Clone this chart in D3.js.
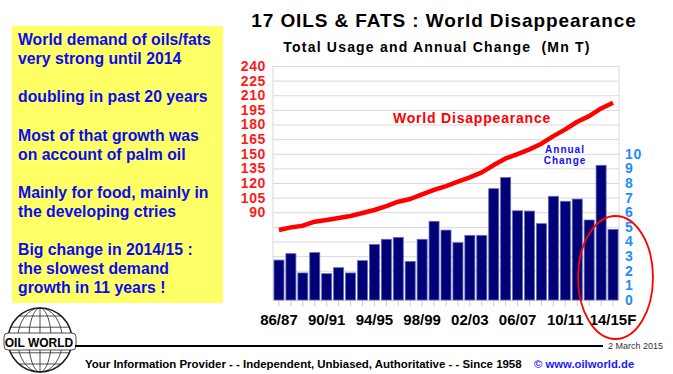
<!DOCTYPE html>
<html>
<head>
<meta charset="utf-8">
<script src="https://cdn.jsdelivr.net/npm/d3@7/dist/d3.min.js"></script>
<style>
  body { margin: 0; background: #fff; }
  svg text { font-family: 'Liberation Sans', Arial, sans-serif; white-space: pre; }
</style>
</head>
<body>
<div id="chart"></div>
<script>
const seasons = ['86/87', '87/88', '88/89', '89/90', '90/91', '91/92', '92/93', '93/94',
  '94/95', '95/96', '96/97', '97/98', '98/99', '99/00', '00/01', '01/02', '02/03',
  '03/04', '04/05', '05/06', '06/07', '07/08', '08/09', '09/10', '10/11', '11/12',
  '12/13', '13/14', '14/15'];
const tickLabels = ['86/87', '90/91', '94/95', '98/99', '02/03', '06/07', '10/11', '14/15F'];
// total usage, Mn T (left axis)
const usage = [71.8, 74.5, 76.2, 80.3, 82.0, 84.1, 86.1, 89.2, 92.3, 96.4, 100.8,
  103.6, 108.4, 113.0, 116.9, 121.3, 125.8, 130.9, 138.4, 145.2, 149.7, 154.5,
  160.3, 168.1, 175.0, 182.8, 188.6, 196.5, 202.3];
// annual change, Mn T (right axis)
const change = [2.73, 3.17, 1.85, 3.24, 1.80, 2.21, 1.85, 2.69, 3.80, 4.15, 4.28,
  2.64, 4.15, 5.38, 4.78, 3.92, 4.42, 4.42, 7.61, 8.38, 6.10, 6.08, 5.22, 7.09,
  6.75, 6.90, 5.47, 9.21, 4.83];
const leftTicks = [90, 105, 120, 135, 150, 165, 180, 195, 210, 225, 240];
const rightTicks = [0, 1, 2, 3, 4, 5, 6, 7, 8, 9, 10];
const notes = [
  'World demand of oils/fats', 'very strong until 2014', '',
  'doubling in past 20 years', '',
  'Most of that growth was', 'on account of palm oil', '',
  'Mainly for food, mainly in', 'the developing ctries', '',
  'Big change in 2014/15 :', 'the slowest demand', 'growth in 11 years !'
];

const W = 673;
const H = 374;
const plot = { left: 273, right: 619, top: 66, bottom: 300 };

const svg = d3.select('#chart').append('svg')
  .attr('width', W)
  .attr('height', H);

const x = d3.scaleBand()
  .domain(seasons)
  .range([plot.left, plot.right])
  .paddingInner(0.16)
  .paddingOuter(0.08);
const yL = d3.scaleLinear().domain([0, 240]).range([plot.bottom, plot.top]);
const yR = d3.scaleLinear().domain([0, 16]).range([plot.bottom, plot.top]);

// yellow note box
svg.append('rect')
  .attr('x', 12).attr('y', 26)
  .attr('width', 211).attr('height', 277)
  .attr('fill', '#ffff66');
svg.append('g').selectAll('text')
  .data(notes)
  .enter().append('text')
  .attr('x', 18)
  .attr('y', (d, i) => 45 + i * 19.1)
  .attr('fill', '#0a0af0')
  .style('font-size', '15.8px')
  .style('font-weight', 'bold')
  .text(d => d);

// titles
svg.append('text')
  .attr('x', 444).attr('y', 27)
  .attr('text-anchor', 'middle')
  .style('font-size', '19px')
  .style('font-weight', 'bold')
  .style('letter-spacing', '0.9px')
  .text('17 OILS & FATS : World Disappearance');
svg.append('text')
  .attr('x', 437).attr('y', 52)
  .attr('text-anchor', 'middle')
  .style('font-size', '14px')
  .style('font-weight', 'bold')
  .style('letter-spacing', '1.2px')
  .text('Total Usage and Annual Change  (Mn T)');

// grid + frame
svg.append('g')
  .attr('transform', `translate(${plot.left},0)`)
  .call(d3.axisRight(yL).tickValues(d3.range(0, 241, 15))
    .tickSize(plot.right - plot.left).tickFormat(''))
  .call(g => g.select('.domain').remove())
  .call(g => g.selectAll('line').attr('stroke', '#d9d9d9'));
svg.append('g').selectAll('line')
  .data([plot.left, plot.right])
  .enter().append('line')
  .attr('x1', d => d).attr('x2', d => d)
  .attr('y1', plot.top).attr('y2', plot.bottom)
  .attr('stroke', '#d9d9d9');

// x ticks at bar centres
svg.append('g')
  .attr('transform', `translate(0,${plot.bottom})`)
  .call(d3.axisBottom(x).tickSize(6).tickFormat(''))
  .call(g => g.select('.domain').remove())
  .call(g => g.selectAll('line').attr('stroke', '#cccccc'));

// bars
svg.append('g').selectAll('rect')
  .data(change)
  .enter().append('rect')
  .attr('x', (d, i) => x(seasons[i]))
  .attr('y', d => yR(d))
  .attr('width', x.bandwidth())
  .attr('height', d => yR(0) - yR(d))
  .attr('fill', '#000078')
  .attr('stroke', '#6a6ab0')
  .attr('stroke-width', 0.8);

// usage line
const line = d3.line()
  .x((d, i) => x(seasons[i]) + x.bandwidth() / 2)
  .y(d => yL(d));
svg.append('path')
  .datum(usage)
  .attr('d', line)
  .attr('fill', 'none')
  .attr('stroke', '#ff0000')
  .attr('stroke-width', 4.5)
  .attr('stroke-linejoin', 'round');

// left axis
svg.append('g')
  .attr('transform', `translate(${plot.left - 5},0)`)
  .call(d3.axisLeft(yL).tickValues(leftTicks).tickSize(0).tickPadding(2))
  .call(g => g.select('.domain').remove())
  .call(g => g.selectAll('text')
    .attr('fill', '#ff1a1a')
    .style('font-size', '14px')
    .style('font-weight', 'bold')
    .style('letter-spacing', '0.6px')
    .style('font-family', "'Liberation Sans', Arial, sans-serif"));

// right axis
svg.append('g')
  .attr('transform', `translate(${plot.right + 4},0)`)
  .call(d3.axisRight(yR).tickValues(rightTicks).tickSize(0).tickPadding(2))
  .call(g => g.select('.domain').remove())
  .call(g => g.selectAll('text')
    .attr('fill', '#1e8cff')
    .style('font-size', '14px')
    .style('font-weight', 'bold')
    .style('letter-spacing', '0.6px')
    .style('font-family', "'Liberation Sans', Arial, sans-serif"));

// x labels
svg.append('g').selectAll('text')
  .data(tickLabels)
  .enter().append('text')
  .attr('x', (d, i) => x(seasons[i * 4]) + x.bandwidth() / 2)
  .attr('y', 325)
  .attr('text-anchor', 'middle')
  .style('font-size', '15px')
  .style('font-weight', 'bold')
  .text(d => d);

// series labels
svg.append('text')
  .attr('x', 393).attr('y', 123)
  .attr('fill', '#ff0000')
  .style('font-size', '14px')
  .style('font-weight', 'bold')
  .style('letter-spacing', '0.8px')
  .text('World Disappearance');
svg.append('g').selectAll('text')
  .data(['Annual', 'Change'])
  .enter().append('text')
  .attr('x', 565).attr('y', (d, i) => 153 + i * 11)
  .attr('text-anchor', 'middle')
  .attr('fill', '#1010ff')
  .style('font-size', '10px')
  .style('font-weight', 'bold')
  .style('letter-spacing', '1px')
  .text(d => d);

// highlight ellipse
svg.append('ellipse')
  .attr('cx', 615.5).attr('cy', 277.5)
  .attr('rx', 37.5).attr('ry', 61.5)
  .attr('fill', 'none')
  .attr('stroke', '#ff0000')
  .attr('stroke-width', 1.8);

// footer
const logo = svg.append('g').attr('transform', 'translate(40,340)');
const r = 32;
logo.append('circle').attr('r', r).attr('fill', '#fff')
  .attr('stroke', '#222').attr('stroke-width', 1.5);
[0.35, 0.7].forEach((k) => {
  logo.append('ellipse').attr('rx', r * k).attr('ry', r)
    .attr('fill', 'none').attr('stroke', '#222').attr('stroke-width', 0.8);
});
logo.append('line').attr('y1', -r).attr('y2', r).attr('stroke', '#222').attr('stroke-width', 0.8);
[-0.75, -0.4, 0.4, 0.75].forEach((k) => {
  const yy = r * k;
  const hw = Math.sqrt(r * r - yy * yy);
  logo.append('line').attr('x1', -hw).attr('x2', hw).attr('y1', yy).attr('y2', yy)
    .attr('stroke', '#222').attr('stroke-width', 0.8);
});
logo.append('rect')
  .attr('x', -36).attr('y', -7).attr('width', 72).attr('height', 17).attr('rx', 4)
  .attr('fill', '#fff').attr('stroke', '#222').attr('stroke-width', 0.8);
logo.append('text')
  .attr('x', -1).attr('y', 7)
  .attr('text-anchor', 'middle')
  .style('font-size', '12px')
  .style('font-weight', 'bold')
  .text('OIL WORLD');

svg.append('line')
  .attr('x1', 75).attr('x2', 603).attr('y1', 346).attr('y2', 346)
  .attr('stroke', '#000').attr('stroke-width', 2);
svg.append('text')
  .attr('x', 608).attr('y', 349)
  .attr('fill', '#333')
  .style('font-size', '9px')
  .text('2 March 2015');
svg.append('text')
  .attr('x', 85).attr('y', 368)
  .style('font-size', '11.45px')
  .style('font-weight', 'bold')
  .text('Your Information Provider - - Independent, Unbiased, Authoritative - - Since 1958');
svg.append('text')
  .attr('x', 534).attr('y', 368)
  .attr('fill', '#1a1aff')
  .style('font-size', '11.3px')
  .style('font-weight', 'bold')
  .text('\u00a9 www.oilworld.de');
</script>
</body>
</html>
